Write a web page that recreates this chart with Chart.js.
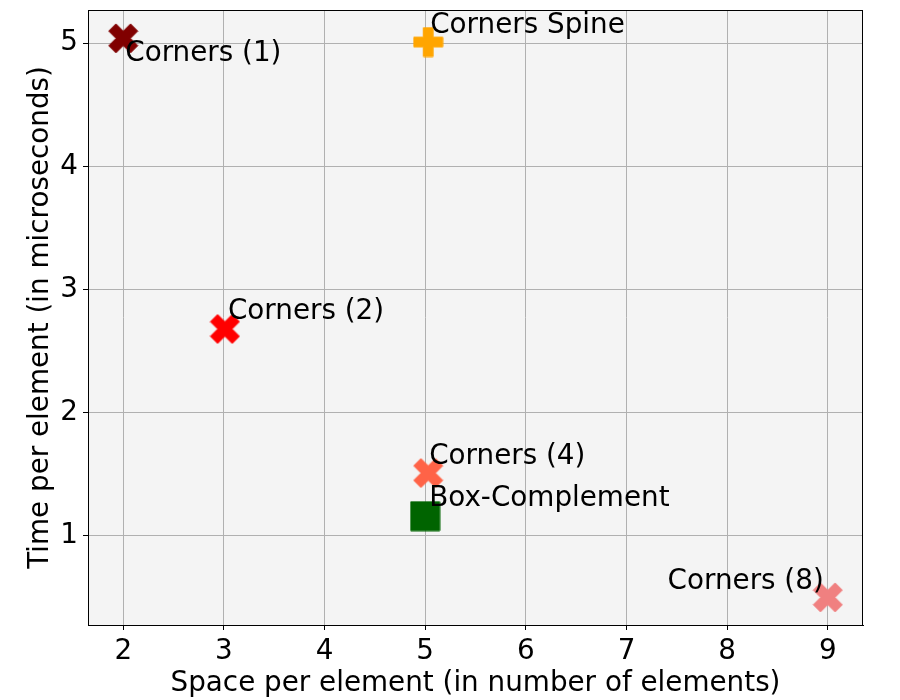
<!DOCTYPE html>
<html>
<head>
<meta charset="utf-8">
<script src="https://cdn.jsdelivr.net/npm/chart.js@4.4.1/dist/chart.umd.min.js"></script>
<style>
  html, body { margin: 0; padding: 0; background: #ffffff; }
  #wrap { width: 900px; height: 700px; }
</style>
</head>
<body>
<div id="wrap"><canvas id="myChart" width="900" height="700"></canvas></div>
<script>
// data
const seriesNames = ['Corners (1)', 'Corners (2)', 'Corners (4)', 'Corners (8)', 'Corners Spine', 'Box-Complement'];
const spaceValues = [2.0, 3.01, 5.03, 9.0, 5.03, 5.0];
const timeValues = [5.04, 2.68, 1.51, 0.5, 5.01, 1.16];
const seriesColors = ['#800000', '#ff0000', '#ff6347', '#f08080', '#ffa500', '#006400'];
const seriesMarkers = ['x', 'x', 'x', 'x', 'plus', 'square'];

// where each annotation text sits (data coords)
const labelX = [2.02, 3.04, 5.04, 8.96, 5.05, 5.04];
const labelY = [4.856, 2.764, 1.585, 0.567, 5.087, 1.244];
const labelAlign = ['left', 'left', 'left', 'right', 'left', 'left'];

const xTicks = [2, 3, 4, 5, 6, 7, 8, 9];
const yTicks = [1, 2, 3, 4, 5];

const FONT = '"DejaVu Sans", "Liberation Sans", sans-serif';
const FSIZE = 27.8;

// marker shapes (unit square), like matplotlib X, P and s
function markerCanvas(kind, color, size) {
  let c = document.createElement('canvas');
  c.width = size;
  c.height = size;
  let g = c.getContext('2d');
  let pts;
  if (kind === 'x') {
    pts = [[0.25,0],[0.5,0.25],[0.75,0],[1,0.25],[0.75,0.5],[1,0.75],[0.75,1],[0.5,0.75],[0.25,1],[0,0.75],[0.25,0.5],[0,0.25]];
  } else if (kind === 'plus') {
    let a = 1/3, b = 2/3;
    pts = [[a,0],[b,0],[b,a],[1,a],[1,b],[b,b],[b,1],[a,1],[a,b],[0,b],[0,a],[a,a]];
  } else {
    pts = [[0,0],[1,0],[1,1],[0,1]];
  }
  let pad = 1;
  let s = size - 2 * pad;
  g.beginPath();
  pts.forEach((p, i) => {
    let px = pad + p[0] * s, py = pad + p[1] * s;
    if (i === 0) g.moveTo(px, py); else g.lineTo(px, py);
  });
  g.closePath();
  g.fillStyle = color;
  g.fill();
  g.strokeStyle = color;
  g.lineWidth = 1;
  g.stroke();
  return c;
}

// grey plot background + black frame
const frame = {
  id: 'frame',
  beforeDraw(chart) {
    let a = chart.chartArea, ctx = chart.ctx;
    ctx.save();
    ctx.fillStyle = '#f4f4f4';
    ctx.fillRect(a.left, a.top, a.right - a.left, a.bottom - a.top);
    ctx.restore();
  },
  afterDraw(chart) {
    let a = chart.chartArea, ctx = chart.ctx;
    ctx.save();
    ctx.strokeStyle = '#000';
    ctx.lineWidth = 1;
    ctx.strokeRect(a.left + 0.5, a.top + 0.5, a.right - a.left - 1, a.bottom - a.top);
    ctx.restore();
  }
};

// text annotations next to markers
const annotations = {
  id: 'annotations',
  afterDatasetsDraw(chart) {
    let ctx = chart.ctx;
    let xs = chart.scales.x, ys = chart.scales.y;
    ctx.save();
    ctx.font = FSIZE + 'px ' + FONT;
    ctx.fillStyle = '#000';
    ctx.textBaseline = 'alphabetic';
    for (let i = 0; i < seriesNames.length; i++) {
      ctx.textAlign = labelAlign[i];
      ctx.fillText(seriesNames[i], xs.getPixelForValue(labelX[i]), ys.getPixelForValue(labelY[i]));
    }
    ctx.restore();
  }
};

let datasets = seriesNames.map((name, i) => ({
  label: name,
  data: [{ x: spaceValues[i], y: timeValues[i] }],
  pointStyle: markerCanvas(seriesMarkers[i], seriesColors[i], 31),
  backgroundColor: seriesColors[i],
  borderColor: seriesColors[i]
}));

let ctx = document.getElementById('myChart');

let chart = new Chart(ctx, {
  type: 'scatter',
  data: { datasets: datasets },
  plugins: [frame, annotations],
  options: {
    responsive: false,
    animation: false,
    devicePixelRatio: 1,
    layout: { padding: { top: 10, right: 37, left: 0, bottom: 0 } },
    plugins: {
      legend: { display: false },
      tooltip: { enabled: false }
    },
    scales: {
      x: {
        type: 'linear',
        min: 1.65,
        max: 9.35,
        afterBuildTicks: axis => { axis.ticks = xTicks.map(v => ({ value: v })); },
        afterFit: axis => { axis.height = 75; axis.paddingLeft = 0; axis.paddingRight = 0; },
        ticks: { color: '#000', font: { size: FSIZE, family: FONT }, padding: 5, maxRotation: 0 },
        grid: { color: '#b0b0b0', lineWidth: 1, tickColor: '#000', tickLength: 5 },
        border: { display: true, color: '#000', width: 1 },
        title: {
          display: true,
          text: 'Space per element (in number of elements)',
          color: '#000',
          font: { size: FSIZE, family: FONT },
          padding: { top: 0, bottom: 0 }
        }
      },
      y: {
        type: 'linear',
        min: 0.276,
        max: 5.27,
        afterBuildTicks: axis => { axis.ticks = yTicks.map(v => ({ value: v })); },
        afterFit: axis => { axis.width = 88; axis.paddingTop = 0; axis.paddingBottom = 0; },
        ticks: { color: '#000', font: { size: FSIZE, family: FONT }, padding: 5 },
        grid: { color: '#b0b0b0', lineWidth: 1, tickColor: '#000', tickLength: 5 },
        border: { display: true, color: '#000', width: 1 },
        title: {
          display: true,
          text: 'Time per element (in microseconds)',
          color: '#000',
          font: { size: FSIZE, family: FONT },
          padding: { top: 24, bottom: 0 }
        }
      }
    }
  }
});
</script>
</body>
</html>
